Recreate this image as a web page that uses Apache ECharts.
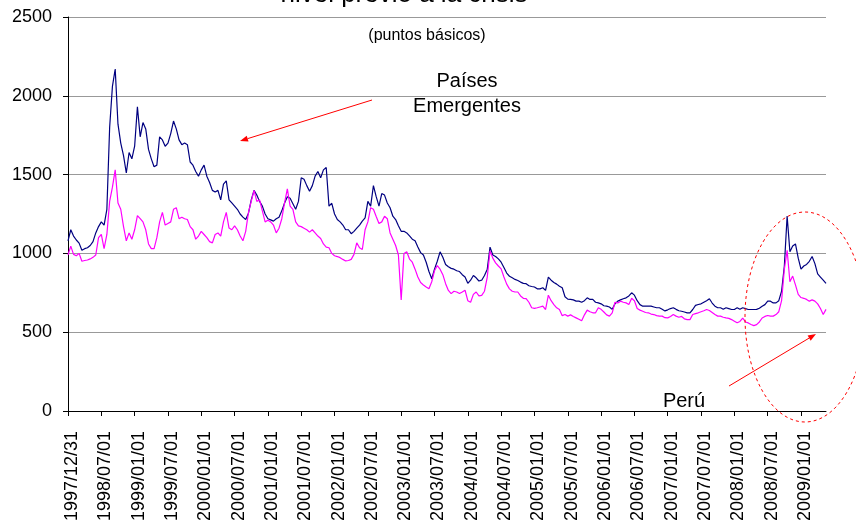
<!DOCTYPE html>
<html><head><meta charset="utf-8">
<script src="https://cdn.jsdelivr.net/npm/echarts/dist/echarts.min.js"></script>
<style>html,body{margin:0;padding:0;background:#fff}#c{width:856px;height:528px}</style>
</head><body><div id="c"></div>
<script>
// X tick labels (every half year)
const tickLabels = ['1997/12/31','1998/07/01','1999/01/01','1999/07/01','2000/01/01','2000/07/01',
  '2001/01/01','2001/07/01','2002/01/01','2002/07/01','2003/01/01','2003/07/01','2004/01/01',
  '2004/07/01','2005/01/01','2005/07/01','2006/01/01','2006/07/01','2007/01/01','2007/07/01',
  '2008/01/01','2008/07/01','2009/01/01'];
const yTicks = [0, 500, 1000, 1500, 2000, 2500];

// Semi-monthly readings (basis points)
const emergentes = [
 1080,1150,1110,1085,1065,1020,1030,1036,1050,1075,
 1130,1170,1200,1180,1280,1800,2060,2170,1820,1700,
 1620,1510,1640,1600,1680,1930,1740,1830,1790,1660,
 1600,1550,1560,1740,1720,1680,1700,1760,1840,1790,
 1720,1690,1700,1690,1580,1560,1520,1490,1530,1560,
 1490,1450,1400,1390,1400,1340,1440,1460,1340,1320,
 1300,1280,1250,1230,1215,1255,1340,1400,1370,1330,
 1300,1250,1220,1213,1205,1220,1230,1270,1320,1360,
 1350,1315,1280,1330,1480,1470,1430,1395,1430,1490,
 1520,1480,1530,1545,1300,1318,1250,1215,1200,1180,
 1150,1150,1125,1140,1160,1180,1205,1225,1330,1300,
 1430,1360,1300,1380,1370,1320,1290,1236,1215,1175,
 1140,1140,1130,1111,1090,1080,1040,1005,990,944,
 885,839,900,950,1010,975,930,915,905,900,
 890,885,865,850,810,830,860,845,825,830,
 860,900,1040,990,980,965,944,910,875,855,
 845,835,828,818,810,808,795,790,787,775,
 775,782,765,850,830,815,805,792,782,725,
 710,708,705,697,697,690,700,718,708,708,
 690,686,680,668,665,660,645,680,697,705,
 712,718,730,750,735,700,675,665,665,665,
 665,660,655,655,645,635,642,650,655,645,
 636,633,628,623,623,644,670,676,680,690,
 700,712,685,665,655,655,645,655,650,644,
 644,655,645,655,650,644,644,644,645,652,
 665,675,697,697,686,686,700,760,920,1237,
 1010,1047,1060,970,900,920,930,950,980,935,
 870,850,830,810];

const peru = [
 990,1046,994,985,1000,950,955,958,965,975,
 990,1100,1120,1030,1120,1330,1420,1530,1320,1280,
 1170,1080,1130,1090,1150,1240,1220,1200,1150,1060,
 1030,1030,1100,1200,1260,1180,1190,1200,1280,1290,
 1220,1230,1220,1215,1170,1150,1090,1110,1140,1120,
 1100,1075,1067,1120,1130,1109,1200,1260,1161,1150,
 1175,1150,1110,1080,1140,1260,1330,1400,1330,1340,
 1270,1200,1210,1200,1180,1130,1160,1220,1320,1410,
 1300,1280,1200,1175,1170,1160,1150,1135,1150,1130,
 1110,1095,1060,1040,1036,1000,985,980,973,962,
 952,955,962,994,1067,1036,1025,1150,1200,1290,
 1280,1234,1190,1200,1236,1220,1130,1090,1050,990,
 705,1000,1010,964,944,900,850,815,800,787,
 776,820,890,923,900,865,808,765,745,760,
 755,745,755,766,700,690,740,755,730,734,
 760,850,1017,970,940,920,902,850,805,775,
 760,755,755,730,715,713,690,655,651,655,
 660,665,644,735,700,675,655,644,605,612,
 602,610,600,591,582,572,610,640,630,623,
 623,655,645,628,610,602,622,690,686,697,
 690,686,676,715,700,650,640,633,625,623,
 615,612,605,602,602,592,591,600,612,602,
 595,600,585,580,580,612,618,623,630,636,
 644,638,625,612,602,602,595,591,588,580,
 570,560,568,590,565,559,549,542,548,565,
 590,600,606,602,602,612,630,700,900,1020,
 820,856,800,740,720,715,708,697,705,697,
 680,650,612,645];

// category dates: 1st and 15th of each month
const categories = [];
for (let i = 0; i < emergentes.length; i++) {
  if (i === 0) { categories.push('1997/12/31'); continue; }
  const m = Math.floor(i / 2);
  const y = 1998 + Math.floor(m / 12);
  const mo = m % 12 + 1;
  const d = i % 2 ? 15 : 1;
  categories.push(y + '/' + String(mo).padStart(2, '0') + '/' + String(d).padStart(2, '0'));
}
const tickSet = new Set(tickLabels);

const FONT = 'Liberation Sans, Arial, sans-serif';

function arrow(x1, y1, x2, y2) {
  const dx = x2 - x1, dy = y2 - y1, L = Math.hypot(dx, dy);
  const ux = dx / L, uy = dy / L, px = -uy, py = ux;
  const hl = 8, hw = 3;
  const bx = x2 - ux * hl, by = y2 - uy * hl;
  return [
    { type: 'line', shape: { x1: x1, y1: y1, x2: bx, y2: by }, style: { stroke: '#ff0000', lineWidth: 1 }, z: 100 },
    { type: 'polygon', shape: { points: [[x2, y2], [bx + px * hw, by + py * hw], [bx - px * hw, by - py * hw]] },
      style: { fill: '#ff0000' }, z: 100 }
  ];
}

const chart = echarts.init(document.getElementById('c'), null, { renderer: 'canvas' });
chart.setOption({
  animation: false,
  backgroundColor: '#ffffff',
  grid: { left: 68, right: 30, top: 17, bottom: 117 },
  xAxis: {
    type: 'category',
    data: categories,
    boundaryGap: false,
    axisLine: { lineStyle: { color: '#000', width: 1 } },
    axisTick: { show: true, length: 5, lineStyle: { color: '#000' },
      interval: function (idx, val) { return tickSet.has(val); } },
    axisLabel: {
      rotate: 90, margin: 20, fontSize: 18, fontFamily: FONT, color: '#000',
      verticalAlign: 'top', lineHeight: 8,
      interval: function (idx, val) { return tickSet.has(val); }
    },
    splitLine: { show: false }
  },
  yAxis: {
    type: 'value', min: yTicks[0], max: yTicks[yTicks.length - 1], interval: 500,
    axisLine: { show: true, lineStyle: { color: '#000', width: 1 } },
    axisTick: { show: true, length: 5, lineStyle: { color: '#000' } },
    axisLabel: { margin: 16, fontSize: 18, fontFamily: FONT, color: '#000',
      formatter: function (v) { return String(v); } },
    splitLine: { show: true, lineStyle: { color: '#999999', width: 1 } }
  },
  series: [
    { name: 'Países Emergentes', type: 'line', data: emergentes, showSymbol: false,
      lineStyle: { color: '#000080', width: 1.2 }, itemStyle: { color: '#000080' } },
    { name: 'Perú', type: 'line', data: peru, showSymbol: false,
      lineStyle: { color: '#ff00ff', width: 1.2 }, itemStyle: { color: '#ff00ff' } }
  ],
  graphic: [
    { type: 'text', style: { text: 'nivel previo a la crisis', x: 404, y: 8,
      textAlign: 'center', textVerticalAlign: 'bottom', font: '26px ' + FONT, fill: '#000' } },
    { type: 'text', style: { text: '(puntos básicos)', x: 427, y: 36, textAlign: 'center',
      textVerticalAlign: 'middle', font: '16px ' + FONT, fill: '#000' } },
    { type: 'text', style: { text: 'Países', x: 467, y: 81, textAlign: 'center',
      textVerticalAlign: 'middle', font: '20px ' + FONT, fill: '#000' } },
    { type: 'text', style: { text: 'Emergentes', x: 467, y: 106, textAlign: 'center',
      textVerticalAlign: 'middle', font: '20px ' + FONT, fill: '#000' } },
    { type: 'text', style: { text: 'Perú', x: 684, y: 401, textAlign: 'center',
      textVerticalAlign: 'middle', font: '20px ' + FONT, fill: '#000' } },
    ...arrow(372, 100, 240, 141),
    ...arrow(729, 386, 816, 334),
    { type: 'ellipse', shape: { cx: 805, cy: 317, rx: 60, ry: 105 },
      style: { fill: 'none', stroke: '#ff0000', lineWidth: 1, lineDash: [3, 3] }, z: 100 }
  ]
});
</script>
</body></html>
